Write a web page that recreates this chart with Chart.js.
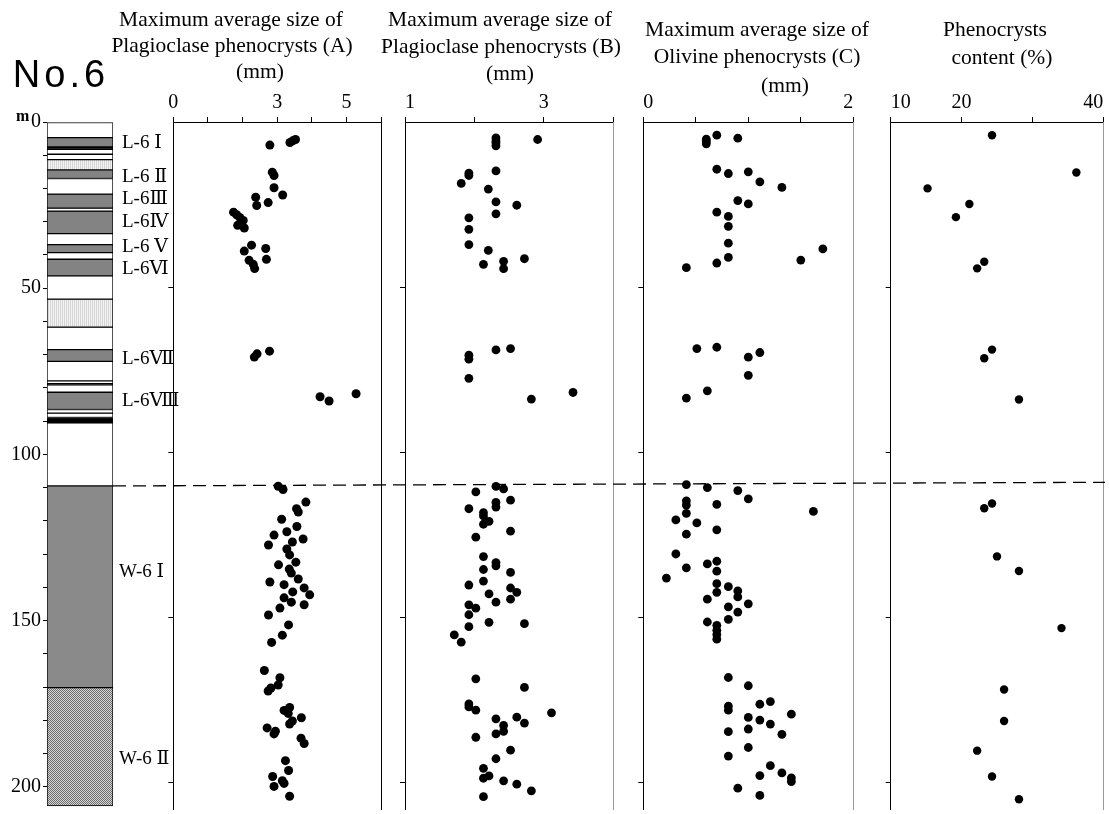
<!DOCTYPE html>
<html><head><meta charset="utf-8">
<script src="https://cdn.jsdelivr.net/npm/chart.js@4.4.1/dist/chart.umd.min.js"></script>
<style>
body{margin:0;background:#fff;}
#wrap{position:relative;width:1109px;height:814px;overflow:hidden;background:#fff;}
#wrap canvas{position:absolute;top:0;}
.t{position:absolute;white-space:nowrap;font-family:'Liberation Serif','Times New Roman',serif;font-size:21.5px;line-height:1;transform:translate(-50%,-50%);color:#000;}
</style></head><body><div id="wrap"></div>
<script>
// ---------- DATA ----------
// Stratigraphic column (depth in m)
const layerTop    = [0, 4.7, 7.5, 8.2, 9.7, 11.3, 14.4, 17.0, 21.7, 25.9, 26.8, 33.6, 36.9, 39.3, 41.3, 46.3, 53.3, 61.7, 68.5, 72.0, 77.9, 78.7, 79.1, 81.3, 86.5, 87.6, 88.9, 90.5, 109.5, 170.2];
const layerBottom = [4.7, 7.5, 8.2, 9.7, 11.3, 14.4, 17.0, 21.7, 25.9, 26.8, 33.6, 36.9, 39.3, 41.3, 46.3, 53.3, 61.7, 68.5, 72.0, 77.9, 78.7, 79.1, 81.3, 86.5, 87.6, 88.9, 90.5, 109.5, 170.2, 205.8];
const layerType   = ['white','gray','black','white','white','stipple','gray','white','gray','white','gray','white','gray','white','gray','white','stipple','white','gray','white','white','black','white','gray','white','white','black','white','wgray','hatch'];
const unitNames  = ['L-6 Ⅰ','L-6 Ⅱ','L-6Ⅲ','L-6Ⅳ','L-6 Ⅴ','L-6Ⅵ','L-6Ⅶ','L-6Ⅷ','W-6 Ⅰ','W-6 Ⅱ'];
const unitDepths = [6.4, 16.5, 23.3, 30.1, 37.6, 44.1, 71.2, 83.9, 135.3, 191.8];
const depthTicks = [0, 50, 100, 150, 200];

// (A) Maximum average size of plagioclase phenocrysts (mm)
const depthA = [7.0,6.2,5.7,5.3,15.2,16.2,19.9,22.1,22.8,25.3,24.4,27.3,28.1,28.9,29.8,31.3,31.1,32.1,37.3,38.3,39.1,41.6,41.9,43.1,44.4,
  71.2,70.2,69.4,83.2,84.5,82.3,
  110.3,111.3,115.1,117.1,118.1,120.3,122.5,124.1,125.1,126.3,127.2,128.1,129.3,131.1,133.3,134.1,135.4,136.6,138.4,139.3,140.1,141.1,142.3,143.2,144.1,145.4,146.2,147.2,149.3,152.3,155.4,157.6,
  166.1,168.3,170.5,171.4,172.3,177.3,178.2,179.1,180.4,181.4,182.3,183.5,184.5,185.3,186.6,188.2,193.4,196.4,198.2,199.5,200.3,201.2,204.2];
const sizeA = [2.79,3.37,3.45,3.53,2.86,2.91,2.91,3.16,2.38,2.41,2.74,1.74,1.83,1.92,2.02,1.86,1.97,2.05,2.26,2.67,2.05,2.69,2.19,2.31,2.35,
  2.34,2.42,2.78,4.24,4.50,5.28,
  3.03,3.17,3.83,3.56,3.61,3.13,3.57,3.28,2.91,3.75,3.44,2.75,3.28,3.36,3.54,3.04,3.35,3.41,3.61,2.79,3.20,3.78,3.45,3.94,3.20,3.41,3.78,3.08,2.75,3.33,3.15,2.84,
  2.63,3.08,3.03,2.82,2.74,3.36,3.20,3.32,3.70,3.44,3.36,2.71,2.95,2.91,3.69,3.78,3.24,3.33,2.87,3.15,3.20,2.91,3.36];
const ticksA = [0, 3, 5];

// (B) Maximum average size of plagioclase phenocrysts (mm)
const depthB = [4.8,5.7,6.3,7.2,5.3,14.8,15.5,16.2,18.6,20.3,24.2,25.2,27.8,29.0,32.5,37.1,38.9,41.4,42.2,43.1,44.4,
  70.6,71.8,69.0,68.6,77.6,83.9,81.9,
  110.3,111.1,112.0,114.5,115.2,116.6,117.1,118.3,119.3,120.9,121.8,123.9,125.7,131.6,133.4,134.4,135.5,136.4,139.0,140.2,141.1,142.4,142.9,144.5,145.4,146.2,147.2,149.2,151.5,151.9,152.8,155.3,157.5,
  168.6,171.2,176.2,177.1,178.1,178.9,180.2,180.7,182.0,182.7,184.5,185.3,186.3,190.2,192.8,195.7,198.7,198.0,199.5,200.5,202.5,204.3];
const sizeB = [2.31,2.31,2.31,2.31,2.91,2.31,1.92,1.92,1.81,2.20,2.31,2.61,2.31,1.92,1.92,1.92,2.20,2.72,2.42,2.13,2.42,
  1.92,1.92,2.31,2.52,1.92,2.82,3.42,
  2.31,2.42,2.02,2.52,2.31,2.31,1.92,2.13,2.13,2.21,2.13,2.52,2.02,2.13,2.31,2.31,2.13,2.52,2.13,1.92,2.52,2.61,2.21,2.52,2.31,1.92,2.02,1.92,2.21,2.72,1.92,1.71,1.81,
  2.02,2.72,1.92,1.92,2.02,3.11,2.61,2.31,2.72,2.42,2.42,2.31,2.02,2.52,2.31,2.13,2.13,2.21,2.42,2.61,2.82,2.13];
const ticksB = [1, 3];

// (C) Maximum average size of olivine phenocrysts (mm)
const depthC = [4.0,5.2,5.8,6.6,4.9,14.3,15.6,15.1,18.1,19.8,23.8,24.8,27.3,28.6,31.6,36.7,38.4,41.0,41.8,42.7,44.1,
  68.6,68.2,71.2,69.8,76.7,81.4,83.6,
  109.8,110.7,111.6,114.1,114.7,116.0,115.8,117.9,118.5,120.5,121.4,123.5,124.8,130.8,133.0,135.0,133.8,136.0,138.1,139.8,140.7,142.4,142.0,143.8,144.5,145.9,146.8,148.4,150.6,151.4,152.4,153.9,155.2,156.6,
  168.2,170.7,176.9,178.1,176.3,175.5,179.3,180.3,181.1,182.3,183.8,184.6,185.4,189.4,192.0,194.9,197.9,197.1,198.6,199.7,201.7,203.9];
const sizeC = [0.70,0.60,0.60,0.60,0.90,0.70,0.81,1.00,1.11,1.32,0.90,1.00,0.70,0.81,0.81,0.81,1.71,0.81,1.50,0.70,0.41,
  0.51,0.70,1.00,1.11,1.00,0.61,0.41,
  0.41,0.61,0.90,1.00,0.41,0.41,0.70,1.62,0.41,0.31,0.51,0.70,0.41,0.31,0.70,0.41,0.61,0.70,0.22,0.70,0.81,0.70,0.90,0.90,0.61,1.00,0.81,0.90,0.81,0.61,0.70,0.70,0.70,0.70,
  0.81,1.00,0.81,0.81,1.11,1.21,1.41,1.00,1.11,1.21,1.00,0.81,1.32,1.00,0.81,1.21,1.11,1.32,1.41,1.41,0.90,1.11];
const ticksC = [0, 2];

// (D) Phenocrysts content (%)
const depthD = [4.0,15.3,20.1,24.8,28.8,42.3,44.3,68.9,71.5,84.0,115.5,116.9,131.5,135.9,153.2,171.8,181.3,190.3,198.1,205.0];
const contentD = [24.3,36.2,15.2,21.1,19.2,23.2,22.2,24.3,23.2,28.1,24.3,23.2,25.0,28.1,34.1,26.0,26.0,22.2,24.3,28.1];
const ticksD = [10, 20, 40];

// boundary between L-6 and W-6 units (dashed line), from left end to right end
const boundaryDepth = [109.5, 108.4];

// ---------- DRAWING ----------
const SERIF = "'Liberation Serif','Times New Roman','DejaVu Serif',serif";
Chart.defaults.color = '#000';
Chart.defaults.font.family = SERIF;
Chart.defaults.font.size = 20;
const DEPTH_MAX = 208.2, TOP = 122, H = 814;
const wrap = document.getElementById('wrap');

function addCanvas(id, left, width, z){
  const c = document.createElement('canvas');
  c.id = id; c.width = width; c.height = H;
  c.style.left = left + 'px'; c.style.width = width + 'px'; c.style.height = H + 'px';
  if (z) c.style.zIndex = z;
  wrap.appendChild(c); return c;
}
function pattern(w, h, painter){
  const p = document.createElement('canvas'); p.width = w; p.height = h;
  const g = p.getContext('2d'); painter(g);
  return p.getContext('2d').createPattern(p, 'repeat');
}
const fills = {
  white: '#ffffff',
  black: '#000000',
  gray: '#838383',
  wgray: '#8a8a8a',
  stipple: pattern(2, 1, g => { g.fillStyle = '#f3f3f3'; g.fillRect(0,0,2,1); g.fillStyle = '#d6d6d6'; g.fillRect(0,0,1,1); }),
  hatch: pattern(2, 2, g => { g.fillStyle = '#d8d8d8'; g.fillRect(0,0,2,2); g.fillStyle = '#6a6a6a'; g.fillRect(0,0,1,1); g.fillRect(1,1,1,1); })
};

const baseOpts = {
  responsive: false, animation: false, events: [], devicePixelRatio: 1,
  plugins: { legend: { display: false }, tooltip: { enabled: false } }
};
function noPad(s){ s.paddingTop = 0; s.paddingBottom = 0; s.paddingLeft = 0; s.paddingRight = 0; }

// Column
const unitLabelPlugin = {
  id: 'unitLabels',
  afterDraw(chart){
    const ctx = chart.ctx, y = chart.scales.y;
    ctx.save();
    ctx.fillStyle = '#000';
    ctx.font = '19px ' + SERIF;
    ctx.textBaseline = 'middle';
    unitNames.forEach((n, i) => {
      ctx.fillText(n, n[0] === 'W' ? 119 : 122, y.getPixelForValue(unitDepths[i]));
    });
    ctx.font = 'bold 16px ' + SERIF;
    ctx.textBaseline = 'alphabetic';
    ctx.fillText('m', 16, y.getPixelForValue(0) - 1);
    ctx.restore();
  }
};
(function(){
  const W = 180;
  const canvas = addCanvas('col', 0, W, 1);
  const datasets = layerTop.map((t, i) => ({
    data: [[t, layerBottom[i]]], backgroundColor: fills[layerType[i]],
    borderColor: '#000', borderWidth: 1, borderSkipped: false,
    barPercentage: 1, categoryPercentage: 1, grouped: false
  }));
  new Chart(canvas, {
    type: 'bar',
    data: { labels: ['column'], datasets },
    options: Object.assign({}, baseOpts, {
      layout: { padding: { top: TOP, right: W - 113, left: 0, bottom: 0 } },
      scales: {
        x: { display: false },
        y: { type: 'linear', reverse: true, min: 0, max: DEPTH_MAX,
             ticks: { stepSize: 10, autoSkip: false, padding: 2, callback: v => depthTicks.includes(v) ? String(v) : '' },
             grid: { drawOnChartArea: false, tickLength: 4,
                     color: c => (c.tick && c.tick.value % 10 === 0) ? '#000' : 'rgba(0,0,0,0)' },
             border: { display: false },
             afterFit: s => { s.width = 47; noPad(s); } }
      }
    }),
    plugins: [unitLabelPlugin]
  });
})();

function panel(id, chartLeft, chartRight, xMin, xMax, step, labels, align, depths, values, rightColor, radius){
  const cl = Math.floor(chartLeft) - 12, cr = Math.ceil(chartRight) + 16;
  const canvas = addCanvas(id, cl, cr - cl, 2);
  const leftW = chartLeft - cl, rightW = cr - chartRight;
  const n = Math.min(depths.length, values.length);
  const pts = [];
  for (let i = 0; i < n; i++) pts.push({ x: values[i], y: depths[i] });
  return new Chart(canvas, {
    type: 'scatter',
    data: { datasets: [{ data: pts, backgroundColor: '#000', borderWidth: 0, pointRadius: radius, pointHoverRadius: radius }] },
    options: Object.assign({}, baseOpts, {
      layout: { padding: 0 },
      scales: {
        x: { type: 'linear', position: 'top', min: xMin, max: xMax,
             ticks: { stepSize: step, autoSkip: false, maxRotation: 0, align: align, padding: 2,
                      callback: v => labels.includes(v) ? String(v) : '' },
             grid: { drawOnChartArea: false, tickLength: 5, color: '#000' },
             border: { color: '#000', width: 1 },
             afterFit: s => { s.height = TOP; noPad(s); } },
        y: { type: 'linear', position: 'left', reverse: true, min: 0, max: DEPTH_MAX,
             ticks: { stepSize: 50, display: false },
             grid: { drawOnChartArea: false, tickLength: 5,
                     color: c => (c.tick && c.tick.value > 0 && c.tick.value % 50 === 0) ? '#000' : 'rgba(0,0,0,0)' },
             border: { color: '#000', width: 1 },
             afterFit: s => { s.width = leftW; noPad(s); } },
        y2: { type: 'linear', position: 'right', reverse: true, min: 0, max: DEPTH_MAX,
              ticks: { display: false }, grid: { display: false },
              border: { color: rightColor, width: 1 },
              afterFit: s => { s.width = rightW; noPad(s); } }
      }
    })
  });
}

panel('pA', 173.3, 381.0, 0, 6, 1, ticksA, 'center', depthA, sizeA, '#000', 4.5);
panel('pB', 405.0, 613.3, 1, 4, 1, ticksB, 'inner', depthB, sizeB, '#999', 4.4);
panel('pC', 643.3, 853.3, 0, 2, 0.5, ticksC, 'inner', depthC, sizeC, '#999', 4.4);
panel('pD', 890.7, 1103.3, 10, 40, 10, ticksD, 'inner', depthD, contentD, '#999', 4.2);

// Dashed boundary line overlay
(function(){
  const canvas = addCanvas('ov', 0, 1109, 5);
  canvas.style.pointerEvents = 'none';
  new Chart(canvas, {
    type: 'scatter',
    data: { datasets: [{ data: boundaryDepth.map((d, i) => ({ x: i, y: d })), showLine: true,
      borderColor: '#000', borderWidth: 1.3, borderDash: [13, 7], pointRadius: 0, fill: false }] },
    options: Object.assign({}, baseOpts, {
      layout: { padding: { left: 113, right: 4, top: TOP, bottom: 0 } },
      scales: {
        x: { type: 'linear', display: false, min: 0, max: 1 },
        y: { type: 'linear', display: false, reverse: true, min: 0, max: DEPTH_MAX }
      }
    })
  });
})();

// Titles
const titles = [
  ['Maximum average size of', 231, 20], ['Plagioclase phenocrysts (A)', 232, 46], ['(mm)', 260, 72],
  ['Maximum average size of', 500, 20], ['Plagioclase phenocrysts (B)', 501, 47], ['(mm)', 510, 74],
  ['Maximum average size of', 757, 30], ['Olivine phenocrysts (C)', 757, 57], ['(mm)', 785, 86],
  ['Phenocrysts', 995, 30], ['content (%)', 1002, 58]
];
titles.forEach(([s, x, y]) => {
  const d = document.createElement('div'); d.className = 't'; d.textContent = s;
  d.style.left = x + 'px'; d.style.top = y + 'px'; d.style.zIndex = 6; wrap.appendChild(d);
});
const no = document.createElement('div'); no.className = 't'; no.textContent = 'No.6';
no.style.left = '61px'; no.style.top = '74px'; no.style.fontSize = '38px'; no.style.letterSpacing = '4px';
no.style.fontFamily = "'Liberation Sans', Arial, sans-serif"; no.style.zIndex = 6;
wrap.appendChild(no);
</script></body></html>
